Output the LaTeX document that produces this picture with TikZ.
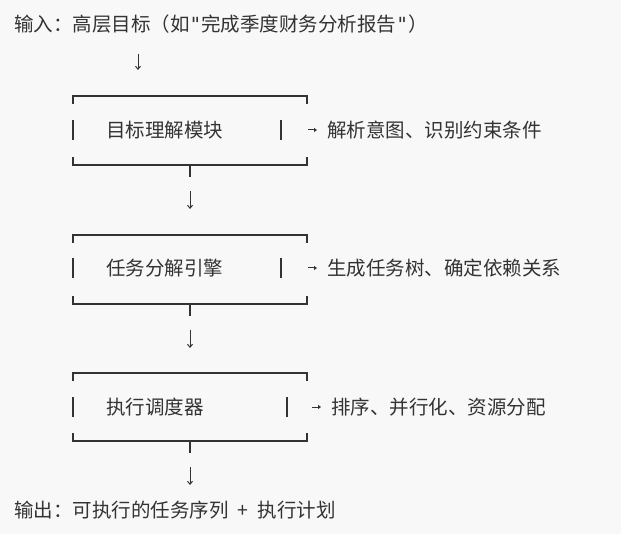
\documentclass[tikz,border=0pt]{standalone}
\usepackage{fontspec}
\usetikzlibrary{arrows.meta}
\setmainfont{Noto Sans CJK SC}
\newfontfamily\qmono{DejaVu Sans Mono}
\newcommand{\sq}{{\qmono\symbol{34}}}
\definecolor{bg}{HTML}{F8F8F8}
\definecolor{ink}{HTML}{333333}
\begin{document}
\begin{tikzpicture}[x=1pt,y=-1pt,
  txt/.style={inner sep=0pt,text=ink,font=\fontsize{19.5}{22}\selectfont},
  ln/.style={draw=ink,line width=1.3pt},
  dn/.style={draw=ink,line width=1pt,-{Straight Barb[length=3pt,width=5pt]}},
  rt/.style={draw=ink,line width=1pt,-{Triangle[length=3pt,width=4pt]}}]
\fill[bg] (0,0) rectangle (621,534);
\useasboundingbox (0,0) rectangle (621,534);
\node[txt,anchor=west] (in) at (14,24) {输入：高层目标（如\sq 完成季度财务分析报告\sq ）};
\coordinate (a0) at (138,54); \coordinate (a1) at (138,70);
\draw[dn] (a0) -- (a1);
\foreach \t/\b/\m/\r/\name/\note/\ax [count=\i] in
 {96/165/130/281/目标理解模块/解析意图、识别约束条件/308,
  235/304/268/281/任务分解引擎/生成任务树、确定依赖关系/308,
  373/441/407/287/执行调度器/排序、并行化、资源分配/312}{
  \draw[ln] (73,\t+8) -- (73,\t) -- (307,\t) -- (307,\t+8);
  \draw[ln] (73,\b-8) -- (73,\b) -- (307,\b) -- (307,\b-8);
  \draw[ln] (73,\m-10) -- (73,\m+10);
  \draw[ln] (\r,\m-10) -- (\r,\m+10);
  \node[txt,anchor=west] (n\i) at (106,\m) {\name};
  \coordinate (r\i) at (\ax,\m); \coordinate (s\i) at (\ax+9,\m);
  \draw[rt] (r\i) -- (s\i);
  \node[txt,anchor=west] (m\i) at (\ax+19,\m) {\note};
  \coordinate (d\i) at (190,\b); \coordinate (e\i) at (190,\b+44);
  \draw[draw=ink,line width=1.3pt] (d\i) -- ++(0,12);
  \draw[dn] (190,\b+26) -- (e\i);
}
\node[txt,anchor=west] (out) at (14,510) {输出：可执行的任务序列\hspace{9pt}+\hspace{9pt}执行计划};
\end{tikzpicture}
\end{document}
